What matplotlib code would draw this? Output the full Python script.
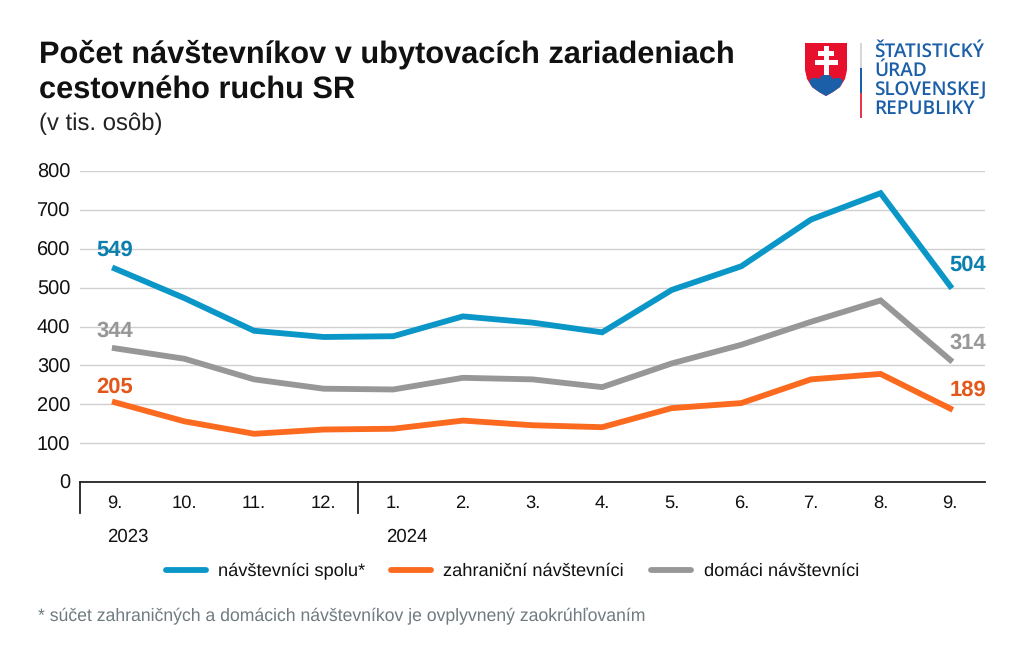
import matplotlib
matplotlib.use('Agg')
import matplotlib.pyplot as plt
from matplotlib.patches import Polygon, Rectangle
from matplotlib.lines import Line2D
import numpy as np

plt.rcParams['font.family'] = ['Liberation Sans', 'DejaVu Sans']
plt.rcParams['text.hinting'] = 'no_hinting'

W, H = 1024, 660

months = ['9.', '10.', '11.', '12.', '1.', '2.', '3.', '4.', '5.', '6.', '7.', '8.', '9.']
spolu = [549, 473, 389, 373, 375, 426, 410, 385, 494, 555, 675, 743, 504]
domaci = [344, 317, 264, 240, 238, 268, 264, 244, 305, 353, 412, 467, 314]
zahranicni = [205, 156, 124, 135, 137, 158, 146, 141, 190, 203, 264, 278, 189]
y_ticks = [0, 100, 200, 300, 400, 500, 600, 700, 800]
legend_names = ['návštevníci spolu*', 'zahraniční návštevníci', 'domáci návštevníci']

BLUE = '#0b96c8'
ORANGE = '#fb6a1f'
GREY = '#979797'
LOGO_BLUE = '#1b5fa8'


def fx(px):
    return px / W


def fy(py):
    return 1 - py / H


def draw_logo(fig):
    # shield, in pixels of the figure
    t = fig.transFigure
    def poly(pts, color):
        fig.add_artist(Polygon([(fx(a), fy(b)) for a, b in pts], closed=True,
                               facecolor=color, edgecolor='none', transform=t))
    poly([(805, 43), (847, 43), (847, 70), (845, 79), (840, 87), (833, 92), (826, 96),
          (819, 92), (812, 87), (807, 79), (805, 70)], '#e8112d')
    # blue hills
    poly([(809, 81), (812, 78), (816, 78), (819, 79), (821, 76), (826, 74), (831, 76),
          (833, 79), (836, 78), (840, 78), (843, 81), (840, 87), (833, 92), (826, 96),
          (819, 92), (812, 87)], LOGO_BLUE)
    # double cross
    for x0, y0, w, h in [(823.5, 46, 5, 29), (818, 51, 16, 4.5), (814.5, 60, 23, 5)]:
        fig.add_artist(Rectangle((fx(x0), fy(y0 + h)), w / W, h / H, facecolor='white',
                                 edgecolor='none', transform=t))
    # divider bar
    for y0, y1, c in [(43, 68, '#d5d8d8'), (68, 93, LOGO_BLUE), (93, 118, '#e8384d')]:
        fig.add_artist(Rectangle((fx(860), fy(y1)), 2 / W, (y1 - y0) / H, facecolor=c,
                                 edgecolor='none', transform=t))
    for i, s in enumerate(['ŠTATISTICKÝ', 'ÚRAD', 'SLOVENSKEJ', 'REPUBLIKY']):
        fig.text(fx(874), fy(52 + i * 19), s, color=LOGO_BLUE, fontsize=13.7,
                 family=['Open Sans', 'DejaVu Sans'], fontweight='semibold',
                 va='center', ha='left')


def main():
    fig = plt.figure(figsize=(W / 100, H / 100), dpi=100)
    ax = fig.add_axes([fx(80), fy(482), (985 - 80) / W, (482 - 171) / H])
    x = np.arange(len(months))

    for v in y_ticks[1:]:
        ax.axhline(v, color='#d0d0d0', lw=1, zorder=1)

    ax.plot(x, spolu, color=BLUE, lw=4.2, solid_joinstyle='miter', zorder=3)
    ax.plot(x, domaci, color=GREY, lw=4.2, solid_joinstyle='miter', zorder=3)
    ax.plot(x, zahranicni, color=ORANGE, lw=4.2, solid_joinstyle='miter', zorder=3)

    ax.set_xlim(-0.5, 12.5)
    ax.set_ylim(0, 800)
    ax.set_yticks(y_ticks)
    ax.set_xticks(x)
    ax.set_xticklabels(months)
    ax.tick_params(axis='y', length=0, labelsize=14.4, pad=7, labelcolor='#111111')
    ax.tick_params(axis='x', length=0, labelsize=13.2, pad=9.5, labelcolor='#111111')
    for side in ['top', 'left', 'right']:
        ax.spines[side].set_visible(False)
    ax.spines['bottom'].set_color('#222222')
    ax.spines['bottom'].set_linewidth(1.3)

    # year separators under the axis
    for xv in [-0.5, 3.5]:
        ax.plot([xv, xv], [0, -80], color='#222222', lw=1.3, clip_on=False, zorder=2)
    ax.text(0.18, -141, '2023', fontsize=13.4, color='#111111', ha='center', va='center')
    ax.text(4.2, -141, '2024', fontsize=13.4, color='#111111', ha='center', va='center')

    # end labels
    bold = dict(fontsize=15.8, fontweight='bold', va='center', ha='center')
    ax.text(0, spolu[0] + 47, str(spolu[0]), color='#0b7fae', **bold)
    ax.text(0, domaci[0] + 43, str(domaci[0]), color=GREY, **bold)
    ax.text(0, zahranicni[0] + 38, str(zahranicni[0]), color='#e2571a', **bold)
    ax.text(12.25, spolu[-1] + 53, str(spolu[-1]), color='#0b7fae', **bold)
    ax.text(12.25, domaci[-1] + 44, str(domaci[-1]), color=GREY, **bold)
    ax.text(12.25, zahranicni[-1] + 48, str(zahranicni[-1]), color='#e2571a', **bold)

    # title block
    fig.text(fx(39), fy(54.5), 'Počet návštevníkov v ubytovacích zariadeniach', fontsize=22.15,
             fontweight='bold', color='#111111', va='center')
    fig.text(fx(39), fy(90.5), 'cestovného ruchu SR', fontsize=22.15,
             fontweight='bold', color='#111111', va='center')
    fig.text(fx(39), fy(124), '(v tis. osôb)', fontsize=17.2, color='#222222', va='center')

    # legend by hand, matches the reference spacing
    for x0, x1, c, tx, s in [(166, 206, BLUE, 218, legend_names[0]),
                             (391, 431, ORANGE, 443, legend_names[1]),
                             (651, 691, GREY, 704, legend_names[2])]:
        fig.add_artist(Line2D([fx(x0), fx(x1)], [fy(570), fy(570)], color=c, lw=4.2,
                              solid_capstyle='round', transform=fig.transFigure))
        fig.text(fx(tx), fy(571), s, fontsize=13.15, color='#111111', va='center')

    fig.text(fx(38), fy(616),
             '* súčet zahraničných a domácich návštevníkov je ovplyvnený zaokrúhľovaním',
             fontsize=12.73, color='#6f7b80', va='center')

    draw_logo(fig)
    fig.savefig('out.png', dpi=100)


if __name__ == '__main__':
    main()
